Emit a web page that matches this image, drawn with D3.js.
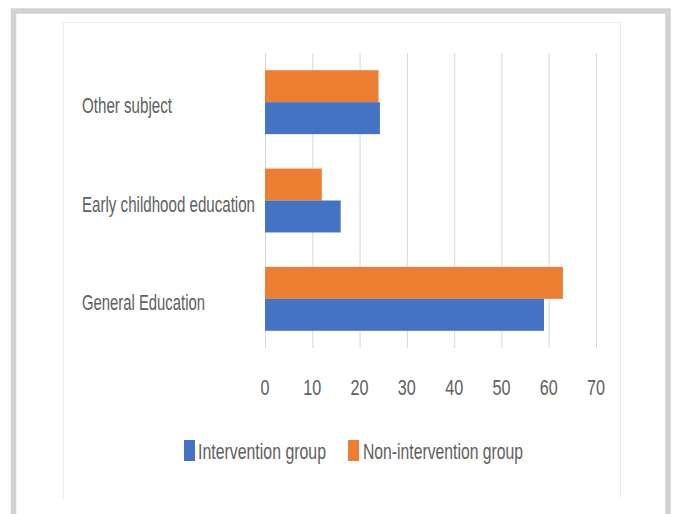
<!DOCTYPE html>
<html><head><meta charset="utf-8">
<script src="https://cdn.jsdelivr.net/npm/d3@7"></script>
<style>body{margin:0;background:#fff}svg{display:block}</style>
</head><body>
<script>
const categories = ["Other subject", "Early childhood education", "General Education"];
const seriesNames = ["Non-intervention group", "Intervention group"];
const nonIntervention = [24, 12, 63];
const intervention = [24.3, 16, 59];
const xTicks = [0, 10, 20, 30, 40, 50, 60, 70];
const colors = {"Intervention group": "#4472C4", "Non-intervention group": "#ED7D31"};

const W = 675, H = 514;
const svg = d3.select("body").append("svg").attr("width", W).attr("height", H);
const font = "'Liberation Sans', Arial, sans-serif";
const txt = "#606060";

// outer frame
svg.append("rect").attr("x", 13.5).attr("y", 11).attr("width", 654.5).attr("height", 620)
  .attr("fill", "none").attr("stroke", "#d2d2d2").attr("stroke-width", 5.5);
// chart area border
svg.append("path").attr("d", "M63.5,499V22.5H620.5V499")
  .attr("fill", "none").attr("stroke", "#ececec").attr("stroke-width", 1);

const x = d3.scaleLinear().domain([0, 70]).range([265, 596]);
const y = d3.scaleBand().domain(categories).range([53, 348]).paddingInner(0.35).paddingOuter(0.175);
const sub = d3.scaleBand().domain(seriesNames).range([0, y.bandwidth()]);

// gridlines
svg.append("g").selectAll("line").data(xTicks).join("line")
  .attr("x1", d => x(d) + 0.5).attr("x2", d => x(d) + 0.5)
  .attr("y1", 53).attr("y2", 348).attr("stroke", "#d9d9d9").attr("stroke-width", 1);

// bars
const rows = categories.map((c, i) => ({c, vals: [
  {s: "Non-intervention group", v: nonIntervention[i]},
  {s: "Intervention group", v: intervention[i]}]}));
const g = svg.append("g").selectAll("g").data(rows).join("g")
  .attr("transform", d => `translate(0,${y(d.c)})`);
g.selectAll("rect").data(d => d.vals).join("rect")
  .attr("x", x(0)).attr("y", d => sub(d.s)).attr("height", sub.bandwidth())
  .attr("width", d => x(d.v) - x(0)).attr("fill", d => colors[d.s]);

// category labels
const catW = {"Other subject": 90, "Early childhood education": 173, "General Education": 123};
svg.append("g").selectAll("text").data(categories).join("text")
  .attr("x", 82).attr("y", d => y(d) + y.bandwidth() / 2 + 11)
  .attr("font-family", font).attr("font-size", 22).attr("fill", txt)
  .attr("textLength", d => catW[d]).attr("lengthAdjust", "spacingAndGlyphs")
  .text(d => d);

// x tick labels
svg.append("g").selectAll("text").data(xTicks).join("text")
  .attr("x", d => x(d)).attr("y", 395).attr("text-anchor", "middle")
  .attr("font-family", font).attr("font-size", 22).attr("fill", txt)
  .attr("textLength", d => String(d).length * 9).attr("lengthAdjust", "spacingAndGlyphs")
  .text(d => d);

// legend
const legend = [
  {s: "Intervention group", rx: 184, tx: 198, tw: 128},
  {s: "Non-intervention group", rx: 348, tx: 363, tw: 160}];
const lg = svg.append("g").selectAll("g").data(legend).join("g");
lg.append("rect").attr("x", d => d.rx).attr("y", 440).attr("width", 11).attr("height", 21)
  .attr("fill", d => colors[d.s]);
lg.append("text").attr("x", d => d.tx).attr("y", 459)
  .attr("font-family", font).attr("font-size", 22).attr("fill", txt)
  .attr("textLength", d => d.tw).attr("lengthAdjust", "spacingAndGlyphs")
  .text(d => d.s);
</script>
</body></html>
